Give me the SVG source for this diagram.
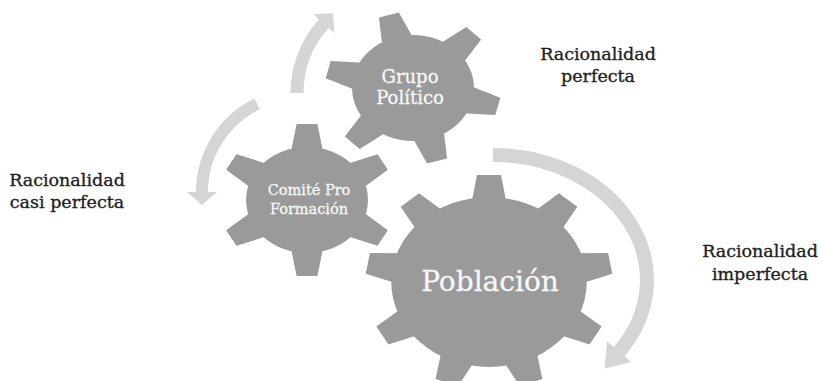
<svg xmlns="http://www.w3.org/2000/svg" width="822" height="381" viewBox="0 0 822 381">
<style>
.gear{fill:#9a9a9a}
.arc{fill:none;stroke:#d5d5d5}
.head{fill:#d5d5d5}
.lbl{font-family:"DejaVu Serif","Liberation Serif",serif;font-size:17.5px;fill:#222;stroke:#222;stroke-width:0.35;text-anchor:middle}
.gl{font-family:"DejaVu Serif","Liberation Serif",serif;fill:#f7f7f7;stroke:#f7f7f7;stroke-width:0.3;text-anchor:middle}
</style>
<defs>
<polygon id="t9" points="-15,-80 -10.5,-107 10.5,-107 15,-80"/>
<polygon id="t6" points="-14,-48 -9,-76 9,-76 14,-48"/>
</defs>
<rect width="822" height="381" fill="#ffffff"/>
<g id="connectors">
<path class="arc" stroke-width="14" d="M 493 155 A 154 125 0 0 1 619.1 351.7"/>
<polygon class="head" points="631.2,362.1 607,341.3 604.7,368.4"/>
<path class="arc" stroke-width="13" d="M 297 93 A 103 103 0 0 1 323.8 23.7"/>
<polygon class="head" points="313.4,14.3 334.2,33.1 333.2,13.3"/>
<path class="arc" stroke-width="12" d="M 257 103.9 A 98 98 0 0 0 202 192"/>
<polygon class="head" points="187,192 217,192 202,205"/>
</g>
<g id="labels">
<text class="lbl" x="598" y="60">Racionalidad</text>
<text class="lbl" x="598" y="82">perfecta</text>
<text class="lbl" x="67" y="186">Racionalidad</text>
<text class="lbl" x="67" y="208">casi perfecta</text>
<text class="lbl" x="760" y="257">Racionalidad</text>
<text class="lbl" x="760" y="280">imperfecta</text>
</g>
<g id="grupo">
<g class="gear" transform="translate(413,88) scale(1.15,1)">
<circle r="53"/>
<use href="#t6" transform="rotate(-16)"/>
<use href="#t6" transform="rotate(44)"/>
<use href="#t6" transform="rotate(104)"/>
<use href="#t6" transform="rotate(164)"/>
<use href="#t6" transform="rotate(224)"/>
<use href="#t6" transform="rotate(284)"/>
</g>
<text class="gl" x="410" y="83" font-size="18">Grupo</text>
<text class="gl" x="410" y="104" font-size="18">Político</text>
</g>
<g id="comite">
<g class="gear" transform="translate(307,200) scale(1.15,1)">
<circle r="53"/>
<use href="#t6"/>
<use href="#t6" transform="rotate(60)"/>
<use href="#t6" transform="rotate(120)"/>
<use href="#t6" transform="rotate(180)"/>
<use href="#t6" transform="rotate(240)"/>
<use href="#t6" transform="rotate(300)"/>
</g>
<text class="gl" x="309" y="195" font-size="14.5">Comité Pro</text>
<text class="gl" x="309" y="214" font-size="14.5">Formación</text>
</g>
<g id="poblacion">
<g class="gear" transform="translate(489,282) scale(1.15,1)">
<circle r="85"/>
<use href="#t9"/>
<use href="#t9" transform="rotate(40)"/>
<use href="#t9" transform="rotate(80)"/>
<use href="#t9" transform="rotate(120)"/>
<use href="#t9" transform="rotate(160)"/>
<use href="#t9" transform="rotate(200)"/>
<use href="#t9" transform="rotate(240)"/>
<use href="#t9" transform="rotate(280)"/>
<use href="#t9" transform="rotate(320)"/>
</g>
<text class="gl" x="490" y="291" font-size="28">Población</text>
</g>
</svg>
